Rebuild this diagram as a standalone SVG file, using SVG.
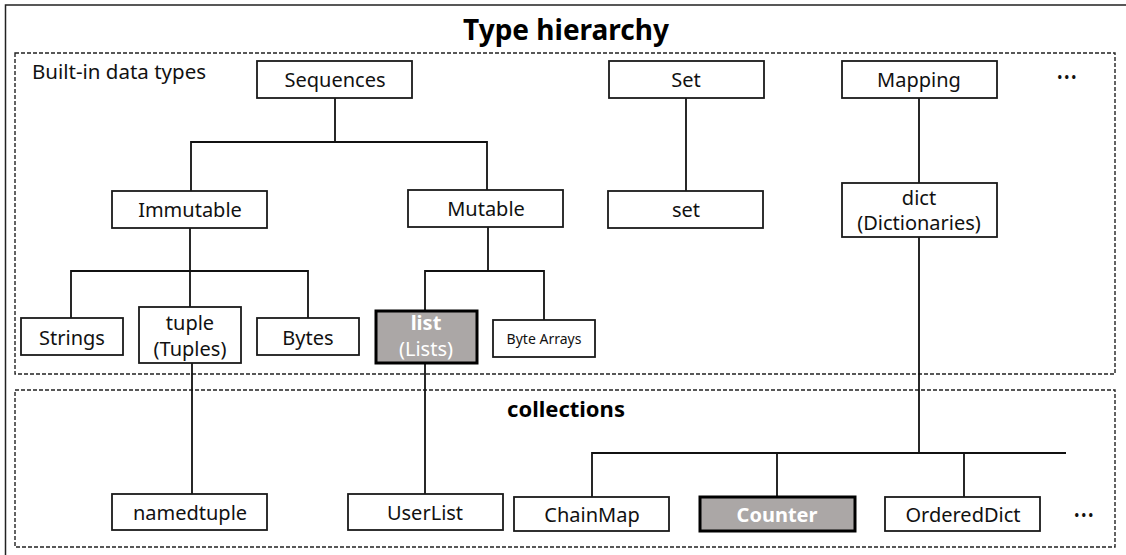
<svg xmlns="http://www.w3.org/2000/svg" width="1126" height="555" viewBox="0 0 1126 555">
<style>
.box{fill:#fff;stroke:#1a1a1a;stroke-width:1.8}
.hl{fill:#aba7a6;stroke:#000;stroke-width:3}
.grp{fill:none;stroke:#222;stroke-width:1.4;stroke-dasharray:4 2}
.t{font-family:"Noto Sans","Open Sans",sans-serif;font-size:20px;fill:#111;text-anchor:middle}
.w{fill:#fff}
.b{font-weight:bold}
.dots{font-family:"Noto Sans","Open Sans",sans-serif;font-size:12px;font-weight:bold;letter-spacing:2.5px;fill:#111;text-anchor:middle}
.conn line,.conn polyline{stroke:#111;stroke-width:1.8;fill:none}
</style>
<rect x="5.5" y="5" width="1125" height="560" fill="#fff" stroke="#222" stroke-width="1.5"/>
<text x="566" y="40" class="t b" style="font-size:28px;fill:#000">Type hierarchy</text>
<rect class="grp" x="15" y="53" width="1100" height="321"/>
<rect class="grp" x="15" y="390" width="1100" height="157"/>
<text x="32" y="79" class="t" style="text-anchor:start;font-size:20.5px">Built-in data types</text>
<text x="566" y="417" class="t b" style="font-size:22px;fill:#000">collections</text>
<g class="conn">
<polyline points="335,98 335,142"/>
<polyline points="191,191 191,142 487,142 487,190"/>
<polyline points="190,228 190,271"/>
<polyline points="71,318 71,271 308,271 308,318"/>
<line x1="190" y1="271" x2="190" y2="307"/>
<polyline points="488,227 488,271"/>
<polyline points="425,310 425,271 544,271 544,320"/>
<line x1="686" y1="98" x2="686" y2="191"/>
<line x1="919" y1="98" x2="919" y2="183"/>
<line x1="919" y1="237" x2="919" y2="453"/>
<line x1="192" y1="363" x2="192" y2="494"/>
<line x1="425" y1="363" x2="425" y2="494"/>
<polyline points="592,497 592,453 1066,453"/>
<line x1="777" y1="453" x2="777" y2="496"/>
<line x1="964" y1="453" x2="964" y2="497"/>
</g>
<g id="sequences"><rect class="box" x="257" y="61" width="155" height="37"/><text x="335" y="87" class="t">Sequences</text></g>
<g id="set-abc"><rect class="box" x="609" y="61" width="155" height="37"/><text x="686" y="87" class="t">Set</text></g>
<g id="mapping"><rect class="box" x="842" y="61" width="155" height="37"/><text x="919" y="87" class="t">Mapping</text></g>
<g id="immutable"><rect class="box" x="112" y="191" width="155" height="37"/><text x="190" y="217" class="t">Immutable</text></g>
<g id="mutable"><rect class="box" x="408" y="190" width="155" height="37"/><text x="486" y="216" class="t">Mutable</text></g>
<g id="set"><rect class="box" x="608" y="191" width="155" height="37"/><text x="686" y="217" class="t">set</text></g>
<g id="dict"><rect class="box" x="842" y="183" width="155" height="54"/><text x="919" y="205" class="t">dict</text><text x="919" y="230" class="t">(Dictionaries)</text></g>
<g id="strings"><rect class="box" x="21" y="318" width="102" height="37"/><text x="72" y="345" class="t">Strings</text></g>
<g id="tuple"><rect class="box" x="139" y="307" width="102" height="56"/><text x="190" y="330" class="t">tuple</text><text x="190" y="356" class="t">(Tuples)</text></g>
<g id="bytes"><rect class="box" x="257" y="318" width="102" height="37"/><text x="308" y="345" class="t">Bytes</text></g>
<g id="list"><rect class="hl" x="376" y="311" width="101" height="52"/><text x="426" y="330" class="t w b">list</text><text x="426" y="356" class="t w">(Lists)</text></g>
<g id="bytearrays"><rect class="box" x="493" y="320" width="102" height="37"/><text x="544" y="344" class="t" style="font-size:14px">Byte Arrays</text></g>
<g id="namedtuple"><rect class="box" x="112" y="494" width="155" height="36"/><text x="190" y="520" class="t">namedtuple</text></g>
<g id="userlist"><rect class="box" x="348" y="494" width="155" height="36"/><text x="425" y="520" class="t">UserList</text></g>
<g id="chainmap"><rect class="box" x="514" y="497" width="155" height="34"/><text x="592" y="522" class="t">ChainMap</text></g>
<g id="counter"><rect class="hl" x="700" y="497" width="155" height="34"/><text x="777" y="522" class="t w b">Counter</text></g>
<g id="ordereddict"><rect class="box" x="885" y="497" width="155" height="34"/><text x="963" y="522" class="t">OrderedDict</text></g>
<text x="1068" y="82" class="dots">•••</text>
<text x="1085" y="520" class="dots">•••</text>
</svg>
